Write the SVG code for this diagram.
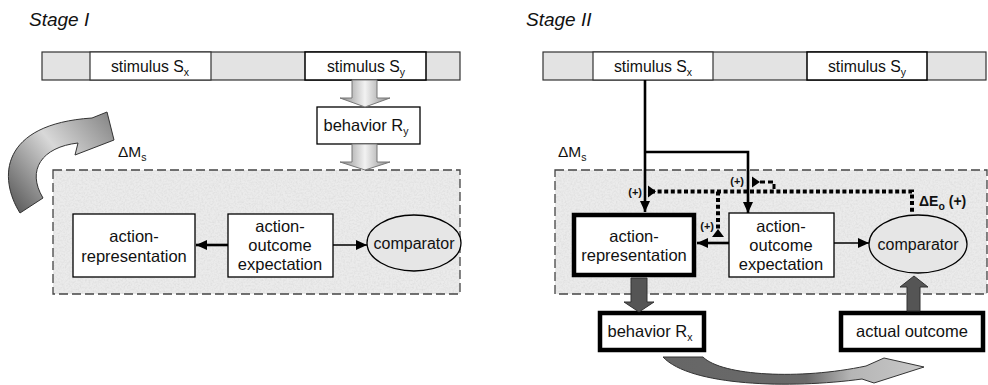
<svg xmlns="http://www.w3.org/2000/svg" width="988" height="385" viewBox="0 0 988 385">
<style>
text{font-family:"Liberation Sans",Arial,sans-serif;fill:#111}
.stage{font-size:19px;font-style:italic}
.t{font-size:16.5px;text-anchor:middle}
.ts{font-size:15.8px;text-anchor:middle}
.tb{font-size:16.5px;text-anchor:middle}
.sub{font-size:10.5px}
.strip{fill:#e3e3e3;stroke:#333;stroke-width:1.2}
.cell{fill:#fff;stroke:#333;stroke-width:1.2}
.region{fill:#ebebeb;stroke:none}
.regionb{fill:none;stroke:#444;stroke-width:1.3;stroke-dasharray:9 4}
.box{fill:#fff;stroke:#000;stroke-width:1.3}
.boxthick{fill:#fff;stroke:#000;stroke-width:4.5}
.comp{fill:#e6e6e6;stroke:#000;stroke-width:1.3}
.line{fill:none;stroke:#000;stroke-width:2.6}
.thin{fill:none;stroke:#000;stroke-width:1.4}
.dot{fill:none;stroke:#000;stroke-width:4;stroke-dasharray:4 2.6}
.dash{fill:none;stroke:#000;stroke-width:3;stroke-dasharray:5 3}
.plus{font-size:11px;font-weight:bold;text-anchor:end}
.grey{fill:url(#gshaft);stroke:#777;stroke-width:1}
.dark{fill:#555;stroke:#333;stroke-width:1}
</style>
<defs>
<marker id="ah" viewBox="0 0 11 10" refX="11" refY="5" markerWidth="11" markerHeight="10" markerUnits="userSpaceOnUse" orient="auto"><path d="M0,0 L11,5 L0,10 z" fill="#000"/></marker>
<linearGradient id="gshaft" x1="0" y1="0" x2="1" y2="0"><stop offset="0" stop-color="#8a8a8a"/><stop offset="0.5" stop-color="#f2f2f2"/><stop offset="1" stop-color="#8a8a8a"/></linearGradient>
<linearGradient id="gcurve" x1="10" y1="210" x2="115" y2="125" gradientUnits="userSpaceOnUse"><stop offset="0" stop-color="#555"/><stop offset="0.55" stop-color="#d8d8d8"/><stop offset="1" stop-color="#8a8a8a"/></linearGradient>
<linearGradient id="gcurve2" x1="663" y1="0" x2="924" y2="0" gradientUnits="userSpaceOnUse"><stop offset="0" stop-color="#666"/><stop offset="0.55" stop-color="#6a6a6a"/><stop offset="0.72" stop-color="#b5b5b5"/><stop offset="1" stop-color="#c8c8c8"/></linearGradient>
<filter id="noise" x="0" y="0" width="1" height="1">
<feTurbulence type="fractalNoise" baseFrequency="0.55" numOctaves="2" seed="5" result="n"/>
<feColorMatrix in="n" type="matrix" values="0 0 0 0 0.62  0 0 0 0 0.62  0 0 0 0 0.62  0.9 0 0 0 -0.33" result="m"/>
<feComposite in="m" in2="SourceGraphic" operator="in" result="c"/>
<feMerge><feMergeNode in="SourceGraphic"/><feMergeNode in="c"/></feMerge>
</filter>
</defs>

<!-- Stage I -->
<text class="stage" x="29" y="26">Stage I</text>
<g id="strip1">
<rect class="strip" x="42" y="52" width="418" height="28"/>
<rect class="cell" x="90" y="52" width="121" height="28"/>
<rect class="cell" x="305" y="52" width="121" height="28" style="stroke:#000;stroke-width:1.5"/>
<text class="ts" x="150" y="72">stimulus S<tspan class="sub" dy="4">x</tspan></text>
<text class="ts" x="366" y="72">stimulus S<tspan class="sub" dy="4">y</tspan></text>
</g>
<g id="region1">
<rect class="region" x="53" y="170" width="407" height="124" filter="url(#noise)"/>
<rect class="regionb" x="53" y="170" width="407" height="124"/>
<text x="118" y="157" style="font-size:15.5px">ΔM<tspan class="sub" dy="4">s</tspan></text>
</g>
<g id="behaviorRy">
<rect class="box" x="317" y="107" width="103" height="37"/>
<text class="tb" x="366" y="131">behavior R<tspan class="sub" dy="4">y</tspan></text>
</g>
<g id="actionrep1">
<rect class="box" x="73" y="214" width="122" height="63"/>
<text class="t" x="134" y="242">action-</text>
<text class="t" x="134" y="262">representation</text>
</g>
<g id="aoe1">
<rect class="box" x="228" y="214" width="105" height="63"/>
<text class="t" x="280" y="232">action-</text>
<text class="t" x="280" y="251">outcome</text>
<text class="t" x="280" y="270">expectation</text>
</g>
<g id="comparator1">
<ellipse class="comp" cx="414" cy="243" rx="47" ry="28"/>
<text class="t" x="414" y="249" style="font-size:16px">comparator</text>
</g>
<g id="connectors1">
<path class="grey" d="M352,80 H377 V98 H390 L365,107 L340,98 H352 Z"/>
<path class="grey" d="M352,144 H377 V162 H390 L365,170 L340,162 H352 Z"/>
<path fill="url(#gcurve)" stroke="#333" stroke-width="1" d="M20,213 C-2,178 0,124 92,118 L107,112 L114,140 L75,155 L78,143 C42,147 26,170 43,198 Z"/>
<line class="line" x1="228" y1="245" x2="196" y2="245" marker-end="url(#ah)"/>
<line class="thin" x1="333" y1="245" x2="367" y2="245" marker-end="url(#ah)"/>
</g>

<!-- Stage II -->
<text class="stage" x="526" y="26">Stage II</text>
<g id="strip2">
<rect class="strip" x="543" y="52" width="443" height="28"/>
<rect class="cell" x="593" y="52" width="120" height="28"/>
<rect class="cell" x="807" y="52" width="120" height="28" style="stroke:#000;stroke-width:1.5"/>
<text class="ts" x="653" y="72">stimulus S<tspan class="sub" dy="4">x</tspan></text>
<text class="ts" x="867" y="72">stimulus S<tspan class="sub" dy="4">y</tspan></text>
</g>
<g id="region2">
<rect class="region" x="555" y="170" width="432" height="124" filter="url(#noise)"/>
<rect class="regionb" x="555" y="170" width="432" height="124"/>
<text x="558" y="157" style="font-size:15.5px">ΔM<tspan class="sub" dy="4">s</tspan></text>
</g>
<g id="actionrep2">
<rect class="boxthick" x="574" y="215" width="120" height="60"/>
<text class="t" x="634" y="242">action-</text>
<text class="t" x="634" y="261">representation</text>
</g>
<g id="aoe2">
<rect class="box" x="729" y="213" width="105" height="64"/>
<text class="t" x="781" y="232">action-</text>
<text class="t" x="781" y="251">outcome</text>
<text class="t" x="781" y="270">expectation</text>
</g>
<g id="comparator2">
<ellipse class="comp" cx="918" cy="244" rx="49" ry="29"/>
<text class="t" x="918" y="250" style="font-size:16px">comparator</text>
</g>
<g id="behaviorRx">
<rect class="boxthick" x="600" y="313" width="104" height="37"/>
<text class="tb" x="650" y="337">behavior R<tspan class="sub" dy="4">x</tspan></text>
</g>
<g id="actualoutcome">
<rect class="boxthick" x="841" y="313" width="142" height="37"/>
<text class="tb" x="912" y="337">actual outcome</text>
</g>
<g id="connectors2">
<path class="line" d="M645,80 V212" marker-end="url(#ah)"/>
<path class="line" d="M645,152 H748 V213" marker-end="url(#ah)"/>
<line class="line" x1="729" y1="243" x2="697" y2="243" marker-end="url(#ah)"/>
<line class="thin" x1="834" y1="243" x2="869" y2="243" marker-end="url(#ah)"/>
<path class="dot" d="M651,191.5 H912 V214"/>
<path class="dot" d="M718,191.5 V231"/>
<path class="dash" d="M760,182 H774 V190"/>
<polygon points="648,185.5 656,191.5 648,197.5" fill="#000"/>
<polygon points="712,237 718,229 724,237" fill="#000"/>
<polygon points="752,176.5 760,182 752,187.5" fill="#000"/>
<text class="plus" x="642" y="196">(+)</text>
<text class="plus" x="744" y="185">(+)</text>
<text class="plus" x="714" y="230">(+)</text>
<text x="919" y="206" style="font-size:14px;font-weight:bold">ΔE<tspan class="sub" dy="4">o</tspan><tspan dy="-4"> (+)</tspan></text>
<path class="dark" d="M631,278 H647 V302 H654 L639,312 L624,302 H631 Z"/>
<path class="dark" d="M907,311 H920 V287 H928 L914,276 L900,287 H907 Z"/>
<path fill="url(#gcurve2)" stroke="#333" stroke-width="1" d="M663,357 L703,357 C722,376 800,380 866,366 L884,358 L924,367 L874,383 L862,379 C790,389 690,386 663,357 Z"/>
</g>
</svg>
